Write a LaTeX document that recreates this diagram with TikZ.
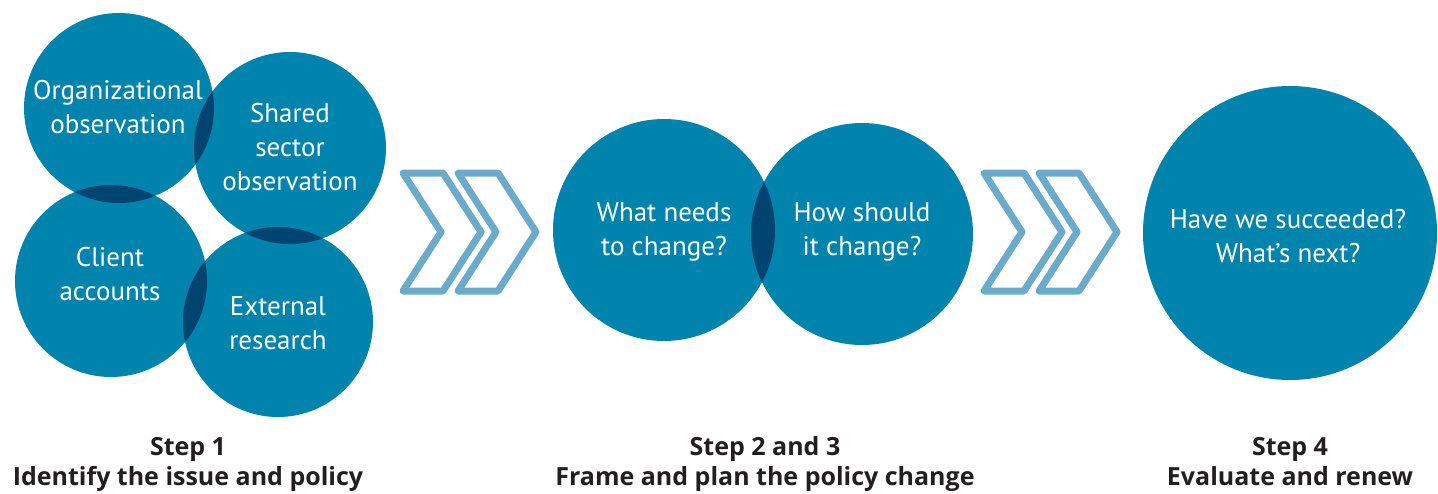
\documentclass[tikz,border=0pt]{standalone}
\usepackage{fontspec}
\setmainfont{PT Sans}
\newfontfamily\lblfont{Open Sans}
\definecolor{circblue}{RGB}{0,131,172}
\definecolor{darkblue}{RGB}{0,68,114}
\definecolor{chevblue}{RGB}{106,170,202}
\definecolor{labelblack}{RGB}{35,31,32}
\begin{document}
\begin{tikzpicture}[x=1pt,y=-1pt,
  bub/.style={circle,fill=circblue,draw=none,inner sep=0pt,outer sep=0pt},
  txt/.style={text=white,font=\fontsize{27}{34}\selectfont,align=center,inner sep=0pt,anchor=base},
  lbl/.style={text=labelblack,font=\lblfont\bfseries\fontsize{25}{29.5}\selectfont,align=center,inner sep=0pt,anchor=base},
  chevstyle/.style={draw=chevblue,line width=7pt,line join=round},
  chevron/.pic={\draw[chevstyle] (0,0) -- (40,0) -- (78,59) -- (40,118) -- (0,118) -- (38,59) -- cycle;}
]
\useasboundingbox (0,0) rectangle (1438,493);
% step 1 circles
\node[bub,minimum size=190pt] (org) at (119,108) {};
\node[bub,minimum size=192pt] (shared) at (290,148) {};
\node[bub,minimum size=192pt] (client) at (111,281) {};
\node[bub,minimum size=190pt] (ext) at (278,322) {};
\begin{scope}\clip (org.center) circle (95pt); \fill[darkblue] (shared.center) circle (96pt);\end{scope}
\begin{scope}\clip (org.center) circle (95pt); \fill[darkblue] (client.center) circle (96pt);\end{scope}
\begin{scope}\clip (shared.center) circle (96pt); \fill[darkblue] (ext.center) circle (95pt);\end{scope}
\begin{scope}\clip (client.center) circle (96pt); \fill[darkblue] (ext.center) circle (95pt);\end{scope}
% step 2-3 circles
\node[bub,minimum size=222pt] (what) at (664,230) {};
\node[bub,minimum size=222pt] (how) at (862,234) {};
\begin{scope}\clip (what.center) circle (111pt); \fill[darkblue] (how.center) circle (111pt);\end{scope}
% step 4 circle
\node[bub,minimum size=294pt] (eval) at (1290,233) {};
% chevrons
\pic at (403,173) {chevron};
\pic at (458,173) {chevron};
\pic at (984,173) {chevron};
\pic at (1039,173) {chevron};
% texts (anchor = baseline of last line)
\node[txt] (torg) at (118,133) {Organizational\\observation};
\node[txt] (tshared) at (290,190) {Shared\\sector\\observation};
\node[txt] (tclient) at (110,300) {Client\\accounts};
\node[txt] (text) at (278,349) {External\\research};
\node[txt] (twhat) at (664,255) {What needs\\to change?};
\node[txt] (thow) at (862,255) {How should\\it change?};
\node[txt] (teval) at (1288,262) {Have we succeeded?\\What’s next?};
% labels
\node[lbl] (l1) at (188,485) {Step 1\\Identify the issue and policy};
\node[lbl] (l2) at (765,485) {Step 2 and 3\\Frame and plan the policy change};
\node[lbl] (l3) at (1290,485) {Step 4\\Evaluate and renew};
\end{tikzpicture}
\end{document}
